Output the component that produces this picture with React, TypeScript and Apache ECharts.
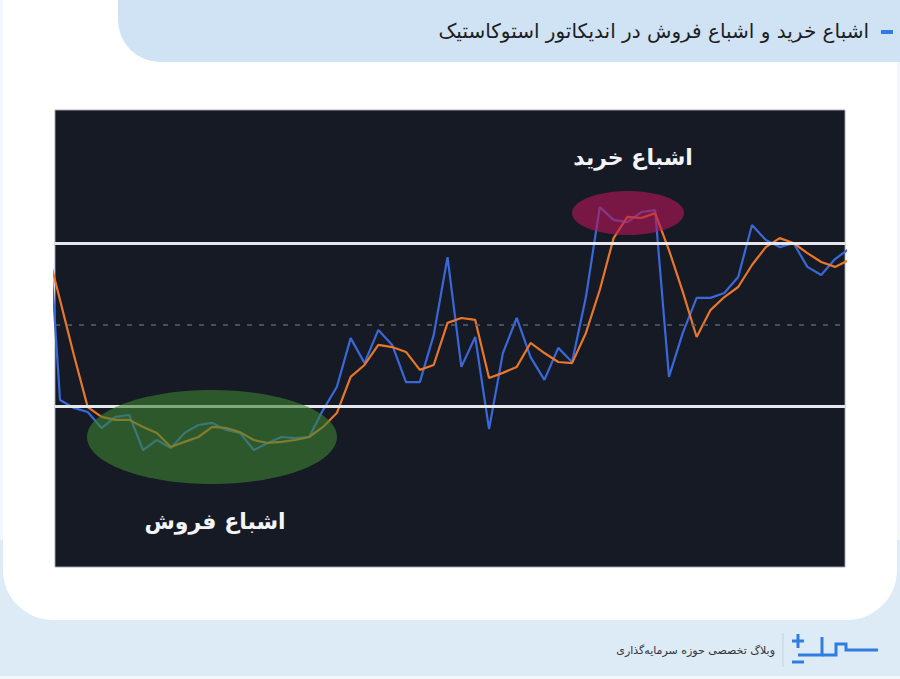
import React, { useEffect, useRef } from "react";
import * as echarts from "echarts";

// %K (blue) and %D (orange) values; index 0 and the last index sit just outside the visible window
const kValues = [100, 22.2, 19.3, 17.8, 11.9, 16.0, 16.7, 3.8, 7.5, 4.5, 10.1, 13.0, 13.8, 11.2, 10.1, 3.8, 6.4, 8.6, 8.2, 8.6, 18.5, 27.0, 45.0, 35.8, 48.0, 42.5, 28.8, 28.8, 46.1, 74.8, 34.4, 45.4, 11.5, 39.5, 52.4, 38.0, 29.6, 41.4, 36.2, 60.1, 93.2, 88.5, 87.7, 91.4, 92.1, 30.7, 46.9, 59.8, 59.8, 61.6, 67.5, 86.6, 81.1, 78.5, 80.0, 71.2, 68.2, 74.1, 77.8];
const dValues = [79, 59.0, 38.8, 19.6, 16.0, 14.9, 14.9, 12.3, 10.1, 4.9, 6.8, 8.6, 12.3, 11.9, 10.4, 7.5, 6.4, 6.8, 7.5, 8.6, 12.3, 17.4, 30.7, 35.1, 42.5, 41.7, 39.9, 33.3, 35.1, 50.6, 52.4, 51.7, 30.3, 32.2, 34.4, 43.2, 39.5, 36.2, 35.8, 46.9, 62.7, 81.8, 89.6, 89.2, 91.0, 77.4, 62.0, 45.4, 55.3, 60.1, 63.8, 71.9, 78.5, 81.8, 80.0, 76.3, 73.0, 71.2, 73.7];
const levels = { overbought: 80, oversold: 20, middle: 50 };
const titleText = "اشباع خرید و اشباع فروش در اندیکاتور استوکاستیک";
const overboughtLabel = "اشباع خرید";
const oversoldLabel = "اشباع فروش";
const footerText = "وبلاگ تخصصی حوزه سرمایه‌گذاری";

const FA = "'DejaVu Sans', sans-serif";

export default function App() {
  const ref = useRef<HTMLDivElement>(null);
  useEffect(() => {
    if (!ref.current) return;
    const chart = echarts.init(ref.current, undefined, { renderer: "svg" });
    const kData = kValues.map((v, i) => [i, v]);
    const dData = dValues.map((v, i) => [i, v]);
    chart.setOption({
      animation: false,
      backgroundColor: "#f3f7fc",
      grid: {
        left: 55,
        top: 110,
        width: 790,
        height: 457,
        show: true,
        backgroundColor: "#161a25",
        borderColor: "rgba(160,165,175,0.9)",
        borderWidth: 1,
        z: 1,
      },
      xAxis: {
        type: "value",
        min: 0.636,
        max: 57.72,
        show: false,
        splitLine: { show: false },
      },
      yAxis: {
        type: "value",
        min: -39.25,
        max: 128.95,
        show: false,
        splitLine: { show: false },
      },
      series: [
        {
          type: "line",
          data: [],
          z: 2,
          silent: true,
          markLine: {
            silent: true,
            symbol: "none",
            label: { show: false },
            data: [
              { yAxis: levels.overbought, lineStyle: { color: "#e6e7ec", width: 3, type: "solid" } },
              { yAxis: levels.oversold, lineStyle: { color: "#e6e7ec", width: 3, type: "solid" } },
              { yAxis: levels.middle, lineStyle: { color: "#5a5f6c", width: 1.5, type: [5, 7] } },
            ],
          },
        },
        {
          name: "%K",
          type: "line",
          data: kData,
          symbol: "none",
          clip: true,
          z: 3,
          lineStyle: { color: "#3a68d8", width: 2.2 },
        },
        {
          name: "%D",
          type: "line",
          data: dData,
          symbol: "none",
          clip: true,
          z: 4,
          lineStyle: { color: "#e8772a", width: 2.2 },
        },
      ],
      graphic: [
        // footer band
        { type: "rect", z: -20, silent: true, shape: { x: 0, y: 540, width: 900, height: 136 }, style: { fill: "#ddebf7" } },
        // white card
        { type: "rect", z: -15, silent: true, shape: { x: 3, y: 0, width: 894, height: 620, r: [0, 0, 50, 50] }, style: { fill: "#ffffff" } },
        // header tab
        { type: "rect", z: -10, silent: true, shape: { x: 118, y: -50, width: 800, height: 112, r: [0, 0, 0, 42] }, style: { fill: "#cfe3f5" } },
        { type: "rect", z: -5, silent: true, shape: { x: 881, y: 30, width: 12, height: 4 }, style: { fill: "#2f7de1" } },
        {
          type: "text", z: -5, silent: true, x: 869, y: 31,
          style: { text: titleText, fill: "#1e1e24", font: `20px ${FA}`, align: "right", verticalAlign: "middle" },
        },
        // highlight ellipses
        { type: "ellipse", z: 10, silent: true, shape: { cx: 628, cy: 213, rx: 56, ry: 22 }, style: { fill: "rgba(180,22,85,0.62)" } },
        { type: "ellipse", z: 10, silent: true, shape: { cx: 212, cy: 437, rx: 125, ry: 47 }, style: { fill: "rgba(60,130,50,0.6)" } },
        {
          type: "text", z: 11, silent: true, x: 633, y: 157,
          style: { text: overboughtLabel, fill: "#f4f4f6", font: `bold 22px ${FA}`, align: "center", verticalAlign: "middle" },
        },
        {
          type: "text", z: 11, silent: true, x: 215, y: 521,
          style: { text: oversoldLabel, fill: "#f4f4f6", font: `bold 22px ${FA}`, align: "center", verticalAlign: "middle" },
        },
        // footer content
        {
          type: "text", z: -5, silent: true, x: 775, y: 650,
          style: { text: footerText, fill: "#333338", font: `11px ${FA}`, align: "right", verticalAlign: "middle" },
        },
        { type: "line", z: -5, silent: true, shape: { x1: 783, y1: 633, x2: 783, y2: 667 }, style: { stroke: "#c3d3e3", lineWidth: 1 } },
        // logo strokes
        { type: "line", z: -5, silent: true, shape: { x1: 798, y1: 634, x2: 798, y2: 648 }, style: { stroke: "#2f7de1", lineWidth: 3 } },
        { type: "line", z: -5, silent: true, shape: { x1: 792, y1: 641, x2: 804, y2: 641 }, style: { stroke: "#2f7de1", lineWidth: 3 } },
        { type: "line", z: -5, silent: true, shape: { x1: 792, y1: 662, x2: 804, y2: 662 }, style: { stroke: "#2f7de1", lineWidth: 3 } },
        {
          type: "polyline", z: -5, silent: true,
          shape: { points: [[798, 655], [822, 655], [822, 637]] },
          style: { stroke: "#2f7de1", lineWidth: 3, fill: "none" },
        },
        {
          type: "polyline", z: -5, silent: true,
          shape: { points: [[822, 655], [836, 655], [836, 644], [846, 644], [846, 650], [878, 650]] },
          style: { stroke: "#2f7de1", lineWidth: 3, fill: "none" },
        },
      ],
    });
    return () => chart.dispose();
  }, []);
  return (
    <div
      ref={ref}
      style={{ position: "absolute", left: 0, top: 0, width: 900, height: 679 }}
    />
  );
}
